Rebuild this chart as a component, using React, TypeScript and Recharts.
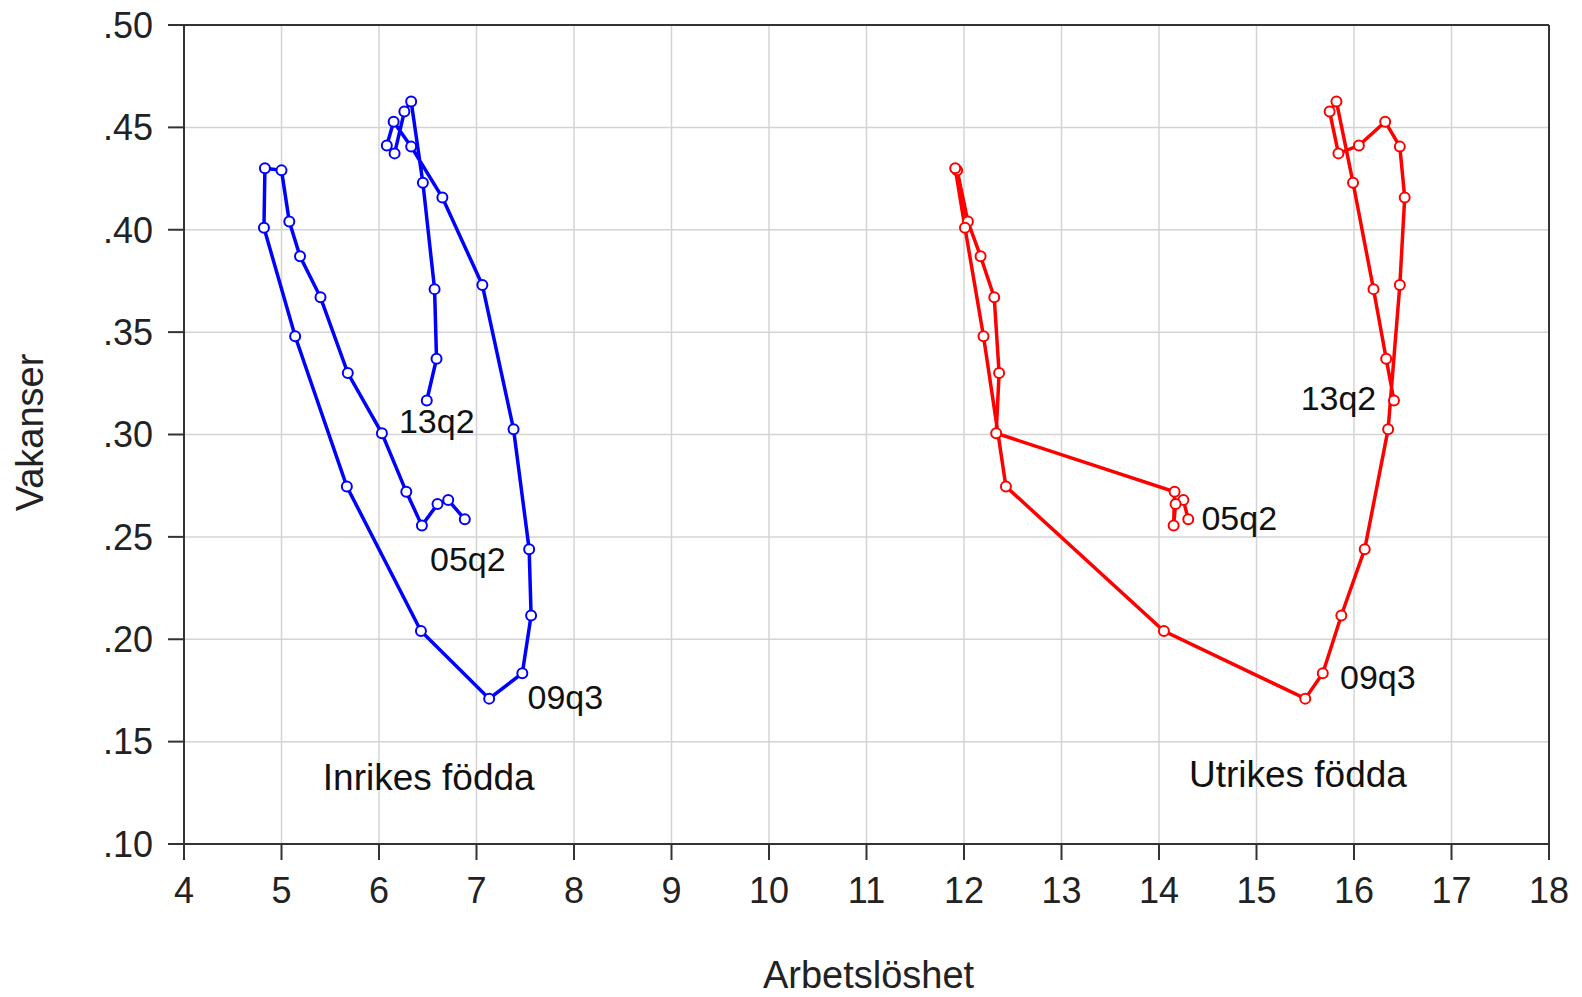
import React from 'react';
import {
  ScatterChart,
  Scatter,
  XAxis,
  YAxis,
  CartesianGrid,
  ReferenceLine,
  ReferenceDot,
  Label,
} from 'recharts';

const periods = [
  '05q2', '05q3', '05q4', '06q1', '06q2', '06q3', '06q4', '07q1', '07q2', '07q3', '07q4',
  '08q1', '08q2', '08q3', '08q4', '09q1', '09q2', '09q3', '09q4', '10q1', '10q2', '10q3',
  '10q4', '11q1', '11q2', '11q3', '11q4', '12q1', '12q2', '12q3', '12q4', '13q1', '13q2',
];

const vacancies = [
  0.2586, 0.268, 0.266, 0.2555, 0.272, 0.3006, 0.33, 0.367, 0.387, 0.404, 0.429,
  0.43, 0.401, 0.348, 0.2746, 0.204, 0.171, 0.1834, 0.2116, 0.244, 0.3026, 0.373,
  0.4157, 0.4406, 0.4528, 0.4411, 0.4373, 0.4577, 0.4626, 0.423, 0.371, 0.337, 0.3166,
];

const unempDomestic = [
  6.88, 6.71, 6.6, 6.44, 6.28, 6.03, 5.68, 5.4, 5.19, 5.08, 5.0,
  4.83, 4.82, 5.14, 5.67, 6.43, 7.13, 7.47, 7.56, 7.54, 7.38, 7.06,
  6.65, 6.33, 6.15, 6.08, 6.16, 6.26, 6.33, 6.45, 6.57, 6.59, 6.49,
];

const unempForeign = [
  14.3, 14.25, 14.17, 14.15, 14.16, 12.33, 12.36, 12.31, 12.17, 12.04, 11.93,
  11.91, 12.01, 12.2, 12.43, 14.05, 15.5, 15.68, 15.87, 16.11, 16.35, 16.47,
  16.52, 16.47, 16.32, 16.05, 15.84, 15.75, 15.82, 15.99, 16.2, 16.33, 16.41,
];

const xTicks = [4, 5, 6, 7, 8, 9, 10, 11, 12, 13, 14, 15, 16, 17, 18];
const yTicks = [0.1, 0.15, 0.2, 0.25, 0.3, 0.35, 0.4, 0.45, 0.5];

const seriesNames = ['Inrikes födda', 'Utrikes födda'];
const seriesNamePos = [
  { u: 6.51, v: 0.1326 },
  { u: 15.425, v: 0.134 },
];

const domesticData = periods.map((p, i) => ({ period: p, u: unempDomestic[i], v: vacancies[i] }));
const foreignData = periods.map((p, i) => ({ period: p, u: unempForeign[i], v: vacancies[i] }));

const BLUE = '#0000ff';
const RED = '#ff0000';
const FONT = '"Liberation Sans", Arial, Helvetica, sans-serif';

const annotations = [
  { data: domesticData, period: '05q2', dx: 3, dy: 40 },
  { data: domesticData, period: '09q3', dx: 43, dy: 24 },
  { data: domesticData, period: '13q2', dx: 10, dy: 20.5 },
  { data: foreignData, period: '05q2', dx: 51, dy: -1.5 },
  { data: foreignData, period: '09q3', dx: 55, dy: 4 },
  { data: foreignData, period: '13q2', dx: -55.5, dy: -3 },
];

const makeShape = (color: string) => (props: any) => {
  const { cx, cy } = props;
  if (cx == null || cy == null) return <g />;
  return <circle cx={cx} cy={cy} r={5} fill="#ffffff" stroke={color} strokeWidth={2} />;
};

const fmtY = (v: number) => v.toFixed(2).replace(/^0/, '');

export default function App() {
  return (
    <div style={{ position: 'absolute', left: 0, top: 0, width: 1582, height: 997, background: '#fff' }}>
      <ScatterChart
        width={1582}
        height={997}
        margin={{ top: 25, right: 33, left: 0, bottom: 0 }}
        style={{ fontFamily: FONT }}
      >
        <CartesianGrid stroke="#d4d4d4" strokeWidth={1.5} />
        <XAxis
          type="number"
          dataKey="u"
          domain={[4, 18]}
          ticks={xTicks}
          interval={0}
          height={153}
          tickSize={16}
          tickMargin={17}
          axisLine={{ stroke: '#333', strokeWidth: 2 }}
          tickLine={{ stroke: '#333', strokeWidth: 2 }}
          tick={{ fontSize: 36, fill: '#222', fontFamily: FONT }}
          allowDataOverflow
        >
          <Label
            content={(p: any) => {
              const vb = p.viewBox || { x: 184, y: 844, width: 1365, height: 153 };
              return (
                <text
                  x={vb.x + vb.width / 2 + 2}
                  y={988}
                  textAnchor="middle"
                  fontSize={38}
                  fill="#222"
                  fontFamily={FONT}
                >
                  Arbetslöshet
                </text>
              );
            }}
          />
        </XAxis>
        <YAxis
          type="number"
          dataKey="v"
          domain={[0.1, 0.5]}
          ticks={yTicks}
          interval={0}
          width={184}
          tickSize={16}
          tickMargin={15}
          tickFormatter={fmtY}
          axisLine={{ stroke: '#333', strokeWidth: 2 }}
          tickLine={{ stroke: '#333', strokeWidth: 2 }}
          tick={{ fontSize: 36, fill: '#222', fontFamily: FONT }}
          allowDataOverflow
        >
          <Label
            content={() => (
              <text
                transform="translate(43, 432.5) rotate(-90)"
                textAnchor="middle"
                fontSize={38}
                fill="#222"
                fontFamily={FONT}
              >
                Vakanser
              </text>
            )}
          />
        </YAxis>
        <ReferenceLine y={0.5} stroke="#333" strokeWidth={2} />
        <ReferenceLine x={18} stroke="#333" strokeWidth={2} />
        <Scatter
          name={seriesNames[0]}
          data={domesticData}
          line={{ stroke: BLUE, strokeWidth: 3.5 }}
          lineType="joint"
          shape={makeShape(BLUE)}
          fill={BLUE}
          isAnimationActive={false}
        />
        <Scatter
          name={seriesNames[1]}
          data={foreignData}
          line={{ stroke: RED, strokeWidth: 3.5 }}
          lineType="joint"
          shape={makeShape(RED)}
          fill={RED}
          isAnimationActive={false}
        />
        {annotations.map((a, i) => {
          const pt = a.data.find((d) => d.period === a.period)!;
          return (
            <ReferenceDot
              key={'a' + i}
              x={pt.u}
              y={pt.v}
              r={1}
              fill="none"
              stroke="none"
              label={{
                content: (p: any) => {
                  const vb = p.viewBox;
                  const cx = vb.x + vb.width / 2;
                  const cy = vb.y + vb.height / 2;
                  return (
                    <text
                      x={cx + a.dx}
                      y={cy + a.dy}
                      textAnchor="middle"
                      dominantBaseline="central"
                      fontSize={34}
                      fill="#111"
                      fontFamily={FONT}
                    >
                      {pt.period}
                    </text>
                  );
                },
              }}
            />
          );
        })}
        {seriesNames.map((name, i) => (
          <ReferenceDot
            key={'s' + i}
            x={seriesNamePos[i].u}
            y={seriesNamePos[i].v}
            r={1}
            fill="none"
            stroke="none"
            label={{
              content: (p: any) => {
                const vb = p.viewBox;
                return (
                  <text
                    x={vb.x + vb.width / 2}
                    y={vb.y + vb.height / 2}
                    textAnchor="middle"
                    dominantBaseline="central"
                    fontSize={37}
                    fill="#111"
                    fontFamily={FONT}
                  >
                    {name}
                  </text>
                );
              },
            }}
          />
        ))}
      </ScatterChart>
    </div>
  );
}
